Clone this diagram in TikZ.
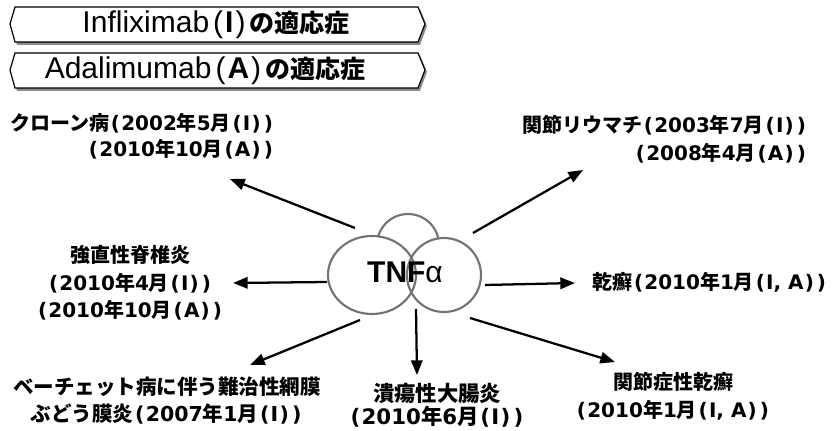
\documentclass[tikz,border=0pt]{standalone}
\usepackage{fontspec}
\setmainfont{Liberation Sans}
\newfontfamily\jp{Noto Sans CJK JP}
\newfontfamily\dv{DejaVu Sans}
\usetikzlibrary{arrows.meta}
\newcommand\J[1]{{\jp\bfseries #1}}
\newcommand\LP{\kern0.09em(\kern0.06em}
\newcommand\RP{\kern0.06em)\kern0.09em}
\newcommand\HP[1]{\kern3pt(\kern1.5pt{\bfseries #1}\kern1.5pt)\kern3pt}
\begin{document}
\begin{tikzpicture}[x=0.75pt,y=-0.75pt,
  lbl/.style={inner sep=0pt},
  hdr/.style={font=\fontsize{22.5}{24}\selectfont, inner sep=0pt},
  arr/.style={line width=1.7pt, -{Triangle[length=11pt,width=8.5pt]}},
  cloud/.style={draw=black!55, line width=1.6pt},
  banner/.style={draw=black, line width=0.9pt, fill=white},
  shadow/.style={fill=black!45}]
\useasboundingbox (0,0) rectangle (834,431);

% banners
\fill[shadow] (12,26) -- (17,9) -- (420,9) -- (427,26) -- (420,45) -- (17,45) -- cycle;
\draw[banner] (10,24) -- (15,7) -- (418,7) -- (425,24) -- (418,42) -- (15,42) -- cycle;
\fill[shadow] (12,72) -- (17,55) -- (420,55) -- (427,72) -- (420,91) -- (17,91) -- cycle;
\draw[banner] (10,70) -- (15,53) -- (418,53) -- (425,70) -- (418,88) -- (15,88) -- cycle;
\node[hdr] (h1) at (216,25) {Infliximab\HP{I}{\jp\bfseries\fontsize{18.75}{20}\selectfont の適応症}};
\node[hdr] (h2) at (205,71) {Adalimumab\HP{A}{\jp\bfseries\fontsize{18.75}{20}\selectfont の適応症}};

% TNF cloud
\filldraw[cloud, fill=white] (408,245) circle (31);
\fill[white] (372,275) ellipse (44 and 39);
\fill[white] (444,275) ellipse (37 and 37);
\draw[cloud] (372,275) ellipse (44 and 39);
\draw[cloud] (444,275) ellipse (37 and 37);
\node[font=\bfseries\fontsize{22.5}{24}\selectfont, inner sep=0pt] (tnf) at (405,272) {TNF{\mdseries α}};

% labels
\node[lbl, align=right, anchor=east, font=\dv\bfseries\fontsize{15}{19.5}\selectfont] (crohn) at (275,136)
  {\J{クローン病}\LP2002\J{年}5\J{月}\LP I\RP\RP\\\LP2010\J{年}10\J{月}\LP A\RP\RP};
\node[lbl, align=right, anchor=east, font=\dv\bfseries\fontsize{15}{21}\selectfont] (ra) at (808,139)
  {\J{関節リウマチ}\LP2003\J{年}7\J{月}\LP I\RP\RP\\\LP2008\J{年}4\J{月}\LP A\RP\RP};
\node[lbl, align=center, font=\dv\bfseries\fontsize{15}{20.6}\selectfont] (as) at (130,283)
  {\J{強直性脊椎炎}\\\LP2010\J{年}4\J{月}\LP I\RP\RP\\\LP2010\J{年}10\J{月}\LP A\RP\RP};
\node[lbl, anchor=west, font=\dv\bfseries\fontsize{15}{20}\selectfont] (ps) at (592,282)
  {\J{乾癬}\LP2010\J{年}1\J{月}\LP I, A\RP\RP};
\node[lbl, align=center, font=\dv\bfseries\fontsize{15.4}{20.25}\selectfont] (bh) at (167,401)
  {\J{ベーチェット病に伴う難治性網膜}\\\J{ぶどう膜炎}\LP2007\J{年}1\J{月}\LP I\RP\RP};
\node[lbl, align=center, font=\dv\bfseries\fontsize{16}{17.25}\selectfont] (uc) at (437,405)
  {\J{潰瘍性大腸炎}\\\LP2010\J{年}6\J{月}\LP I\RP\RP};
\node[lbl, align=center, font=\dv\bfseries\fontsize{15}{21}\selectfont] (psa) at (673,396)
  {\J{関節症性乾癬}\\\LP2010\J{年}1\J{月}\LP I, A\RP\RP};

% arrow ends
\coordinate (s1) at (355,228); \coordinate (e1) at (230,179);
\coordinate (s2) at (473,233); \coordinate (e2) at (583,170);
\coordinate (s3) at (327,282); \coordinate (e3) at (233,283);
\coordinate (s4) at (485,285); \coordinate (e4) at (575,283);
\coordinate (s5) at (360,320); \coordinate (e5) at (250,365);
\coordinate (s6) at (416,309); \coordinate (e6) at (417,375);
\coordinate (s7) at (470,318); \coordinate (e7) at (615,362);
\foreach \i in {1,...,7} {\draw[arr] (s\i) -- (e\i);}
\end{tikzpicture}
\end{document}
